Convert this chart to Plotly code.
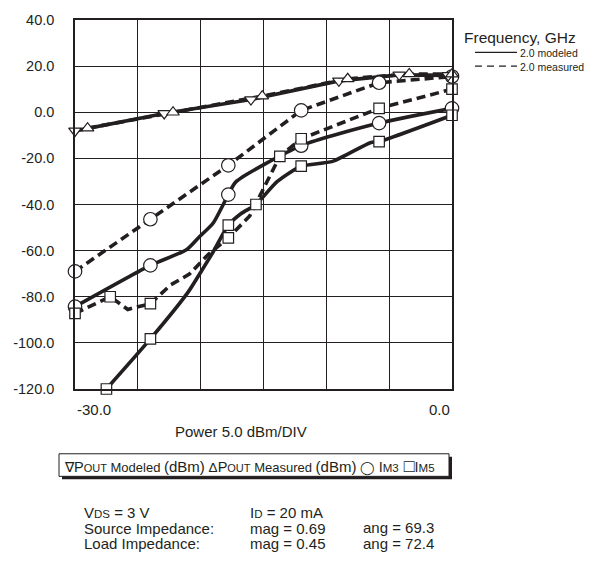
import plotly.graph_objects as go

# ---------------- data (dBm) ----------------
y_tick_vals = [-120, -100, -80, -60, -40, -20, 0, 20, 40]
y_tick_text = ["-120.0", "-100.0", "-80.0", "-60.0", "-40.0", "-20.0", "0.0", "20.0", "40.0"]

# Output power, modeled (down triangles) and measured (up triangles)
pout_mod_x = [-30.0, -22.9, -16.0, -9.0, -4.2, -0.3]
pout_mod_y = [-8.1, -0.5, 5.5, 13.6, 16.2, 16.0]
pout_meas_x = [-29.0, -22.2, -15.1, -8.3, -3.4, 0.0]
pout_meas_y = [-6.9, 0.0, 7.0, 14.5, 16.6, 16.5]

# IM3 modeled: curve and marker points
im3_mod_curve_x = [-30.0, -24.0, -21.1, -20.1, -19.0, -17.8, -17.2, -12.0, -5.8, 0.0]
im3_mod_curve_y = [-84.3, -66.4, -59.5, -54.0, -48.0, -35.7, -30.2, -14.5, -4.7, 1.7]
im3_mod_x = [-30.0, -24.0, -17.8, -12.0, -5.8, 0.0]
im3_mod_y = [-84.3, -66.4, -35.7, -14.5, -4.7, 1.7]

# IM3 measured
im3_meas_x = [-30.0, -24.0, -17.8, -12.0, -5.8, 0.0]
im3_meas_y = [-69.0, -46.4, -23.0, 0.8, 12.8, 15.5]

# IM5 modeled: curve and marker points
im5_mod_curve_x = [-27.5, -24.0, -21.0, -19.9, -19.0, -17.8, -16.8, -15.6, -13.9, -12.0, -9.5, -6.5, -5.8, 0.0]
im5_mod_curve_y = [-120.0, -98.3, -78.0, -68.5, -60.5, -48.9, -44.0, -40.0, -30.0, -23.4, -21.3, -13.2, -12.7, -1.3]
im5_mod_x = [-27.5, -24.0, -17.8, -15.6, -12.0, -5.8, 0.0]
im5_mod_y = [-120.0, -98.3, -48.9, -40.0, -23.4, -12.7, -1.3]

# IM5 measured: curve and marker points
im5_meas_curve_x = [-30.0, -27.2, -25.8, -24.0, -22.4, -20.9, -19.4, -17.8, -16.1, -14.9, -13.7, -12.0, -5.8, 0.0]
im5_meas_curve_y = [-87.2, -80.0, -85.5, -83.0, -74.9, -70.2, -61.7, -54.5, -45.0, -32.3, -19.1, -11.5, 1.7, 10.0]
im5_meas_x = [-30.0, -27.2, -24.0, -17.8, -13.7, -12.0, -5.8, 0.0]
im5_meas_y = [-87.2, -80.0, -83.0, -54.5, -19.1, -11.5, 1.7, 10.0]

# ---------------- layout geometry ----------------
W, H = 597, 565
L, R, T, B = 75, 145, 13, 176
PW, PH = W - L - R, H - T - B


def px(x):
    return (x - L) / PW


def py(y):
    return (H - B - y) / PH


INK = "#231f20"
FONT = "Liberation Sans, Arial, Helvetica, sans-serif"
LW = 3.6
DASH = "9px,5px"

fig = go.Figure()

# ---- lines ----
fig.add_trace(go.Scatter(x=pout_meas_x, y=pout_meas_y, mode="lines",
                         line=dict(color=INK, width=LW, dash=DASH)))
fig.add_trace(go.Scatter(x=pout_mod_x, y=pout_mod_y, mode="lines",
                         line=dict(color=INK, width=LW)))
fig.add_trace(go.Scatter(x=im3_meas_x, y=im3_meas_y, mode="lines",
                         line=dict(color=INK, width=LW, dash=DASH)))
fig.add_trace(go.Scatter(x=im3_mod_curve_x, y=im3_mod_curve_y, mode="lines",
                         line=dict(color=INK, width=LW, shape="spline", smoothing=0.6)))
fig.add_trace(go.Scatter(x=im5_meas_curve_x, y=im5_meas_curve_y, mode="lines",
                         line=dict(color=INK, width=LW, dash=DASH)))
fig.add_trace(go.Scatter(x=im5_mod_curve_x, y=im5_mod_curve_y, mode="lines",
                         line=dict(color=INK, width=LW, shape="spline", smoothing=0.6)))

# ---- markers on top ----
mk = dict(color="white", line=dict(color=INK, width=1.2))
marker_sets = [
    (im3_meas_x, im3_meas_y, "circle", 13.5),
    (im3_mod_x, im3_mod_y, "circle", 13.5),
    (im5_meas_x, im5_meas_y, "square", 10.5),
    (im5_mod_x, im5_mod_y, "square", 10.5),
    (pout_mod_x, pout_mod_y, "triangle-down", 11),
    (pout_meas_x, pout_meas_y, "triangle-up", 11),
]
for mx, my, sym, size in marker_sets:
    fig.add_trace(go.Scatter(x=mx, y=my, mode="markers", cliponaxis=False,
                             marker=dict(symbol=sym, size=size, **mk)))

shapes = []
annotations = []

# x-axis end labels and title
annotations.append(dict(x=-30, xref="x", y=py(410), yref="paper", text="-30.0",
                        showarrow=False, xanchor="left", yanchor="middle",
                        font=dict(size=15, color=INK)))
annotations.append(dict(x=0, xref="x", y=py(410), yref="paper", text="0.0",
                        showarrow=False, xanchor="right", yanchor="middle",
                        font=dict(size=15, color=INK)))
annotations.append(dict(x=px(241), xref="paper", y=py(432), yref="paper",
                        text="Power 5.0 dBm/DIV", showarrow=False,
                        xanchor="center", yanchor="middle",
                        font=dict(size=15, color=INK)))

# frequency key (upper right)
annotations.append(dict(x=px(462), xref="paper", y=py(31), yref="paper",
                        text="Frequency, GHz", showarrow=False,
                        xanchor="left", yanchor="middle",
                        font=dict(size=15.5, color=INK)))
shapes.append(dict(type="line", xref="paper", yref="paper",
                   x0=px(475), x1=px(517), y0=py(46), y1=py(46),
                   line=dict(color=INK, width=1.3)))
shapes.append(dict(type="line", xref="paper", yref="paper",
                   x0=px(475), x1=px(517), y0=py(60), y1=py(60),
                   line=dict(color=INK, width=1.3, dash="7px,5px")))
annotations.append(dict(x=px(518), xref="paper", y=py(46.5), yref="paper",
                        text="2.0 modeled", showarrow=False,
                        xanchor="left", yanchor="middle",
                        font=dict(size=10.5, color=INK)))
annotations.append(dict(x=px(518), xref="paper", y=py(60.5), yref="paper",
                        text="2.0 measured", showarrow=False,
                        xanchor="left", yanchor="middle",
                        font=dict(size=10.5, color=INK)))

# symbol key box with drop shadow
bx0, bx1, by0, by1 = 59, 449, 455, 478
shapes.append(dict(type="rect", xref="paper", yref="paper",
                   x0=px(bx0 + 3), x1=px(bx1 + 3), y0=py(by0 + 3), y1=py(by1 + 3),
                   fillcolor=INK, line=dict(width=0)))
shapes.append(dict(type="rect", xref="paper", yref="paper",
                   x0=px(bx0), x1=px(bx1), y0=py(by0), y1=py(by1),
                   fillcolor="white", line=dict(color=INK, width=1)))


def sm(t, s):
    return f'<span style="font-size:{s}px">{t}</span>'


key_text = (
    sm("\u2207", 14) + sm("P", 14.5) + sm("OUT", 11) + sm(" Modeled ", 13) + sm("(dBm)", 15)
    + sm(" \u0394", 13.5) + sm("P", 14.5) + sm("OUT", 11) + sm(" Measured ", 13) + sm("(dBm)", 15)
    + sm(" \u25ef ", 13) + sm("I", 14.5) + sm("M3", 11.5)
    + sm(" \u25a1", 18) + sm("I", 14.5) + sm("M5", 11.5)
)
annotations.append(dict(x=px(62), xref="paper", y=py(467), yref="paper",
                        text=key_text, showarrow=False, xanchor="left", yanchor="middle",
                        font=dict(size=13, color=INK)))

# bias and impedance notes: one block per column, tight line pitch
NOTE_PT = 15
col1 = [sm("V", NOTE_PT) + sm("DS", 11.5) + sm(" = 3 V", NOTE_PT),
        sm("Source Impedance:", NOTE_PT),
        sm("Load Impedance:", NOTE_PT)]
col2 = [sm("I", NOTE_PT) + sm("D", 11.5) + sm(" = 20 mA", NOTE_PT),
        sm("mag = 0.69", NOTE_PT),
        sm("mag = 0.45", NOTE_PT)]
col3 = [sm("ang = 69.3", NOTE_PT),
        sm("ang = 72.4", NOTE_PT)]
for cx, cy, lines in [(83, 530.5, col1), (249, 530.5, col2), (362, 538.3, col3)]:
    annotations.append(dict(x=px(cx), xref="paper", y=py(cy), yref="paper",
                            text="<br>".join(lines), showarrow=False,
                            xanchor="left", yanchor="middle", align="left",
                            borderpad=0, font=dict(size=12, color=INK)))

fig.update_layout(
    width=W, height=H,
    margin=dict(l=L, r=R, t=T, b=B),
    paper_bgcolor="white", plot_bgcolor="white",
    showlegend=False,
    font=dict(family=FONT, color=INK),
    shapes=shapes,
    annotations=annotations,
    xaxis=dict(range=[-30, 0], dtick=5, tick0=-30, showgrid=True,
               gridcolor=INK, gridwidth=1.2, showticklabels=False, ticks="",
               zeroline=False, showline=True, linecolor=INK, linewidth=1.6,
               mirror=True, fixedrange=True),
    yaxis=dict(range=[-120, 40], tickvals=y_tick_vals, ticktext=y_tick_text,
               showgrid=True, gridcolor=INK, gridwidth=1.2, ticks="",
               ticklabelstandoff=16, tickfont=dict(size=14.5, color=INK),
               zeroline=False, showline=True, linecolor=INK, linewidth=1.6,
               mirror=True, fixedrange=True),
)

fig.write_html("out.html", config={"displayModeBar": False})
